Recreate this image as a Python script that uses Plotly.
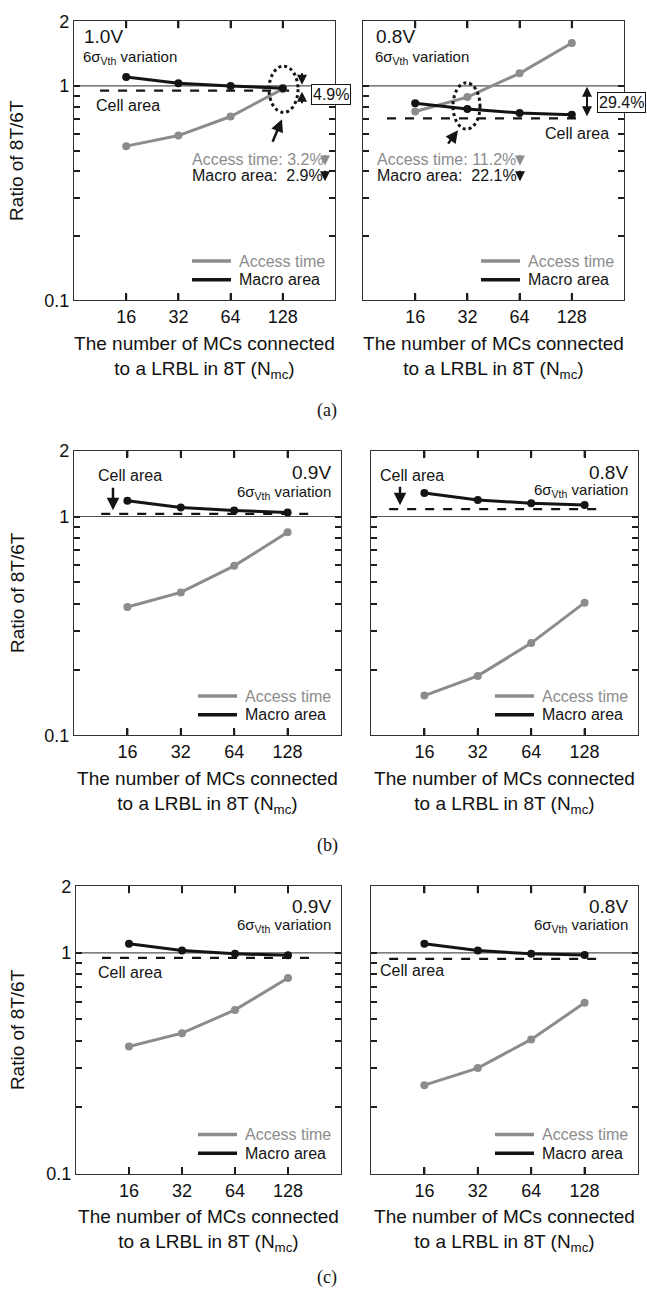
import plotly.graph_objects as go

W, H = 647, 1303

# ---------------- data ----------------
N_MC = ["16", "32", "64", "128"]
X_IDX = [0, 1, 2, 3]

# (a) 1.0V and 0.8V
access_a1 = [0.524, 0.587, 0.72, 0.968]
macro_a1 = [1.10, 1.03, 1.00, 0.975]
cell_a1 = 0.951
access_a2 = [0.76, 0.887, 1.145, 1.585]
macro_a2 = [0.83, 0.78, 0.748, 0.734]
cell_a2 = 0.706
# (b) 0.9V and 0.8V
access_b1 = [0.386, 0.45, 0.595, 0.847]
macro_b1 = [1.18, 1.10, 1.065, 1.043]
cell_b1 = 1.028
access_b2 = [0.152, 0.187, 0.264, 0.404]
macro_b2 = [1.28, 1.19, 1.15, 1.13]
cell_b2 = 1.08
# (c) 0.9V and 0.8V
access_c1 = [0.377, 0.433, 0.552, 0.77]
macro_c1 = [1.10, 1.025, 0.99, 0.975]
cell_c1 = 0.95
access_c2 = [0.252, 0.301, 0.406, 0.594]
macro_c2 = [1.10, 1.025, 0.99, 0.978]
cell_c2 = 0.94

VOLTAGES = ["1.0V", "0.8V", "0.9V", "0.8V", "0.9V", "0.8V"]
Y_TICKS = [0.1, 1, 2]
Y_TICK_TEXT = ["0.1", "1", "2"]
Y_MINOR = [0.2, 0.3, 0.4, 0.5, 0.6, 0.7, 0.8, 0.9]
REF_RATIO = 1.0

ACCESS = [access_a1, access_a2, access_b1, access_b2, access_c1, access_c2]
MACRO = [macro_a1, macro_a2, macro_b1, macro_b2, macro_c1, macro_c2]
CELL = [cell_a1, cell_a2, cell_b1, cell_b2, cell_c1, cell_c2]

# ---------------- layout geometry (pixels) ----------------
PANELS = [
    (74, 335, 11.5, 295),
    (363, 624, 11.5, 295),
    (74, 341, 447.5, 736.7),
    (371, 638, 447.5, 736.7),
    (76, 341, 890, 1182),
    (371, 638, 890, 1182),
]
CELL_SPAN = [(-0.5, 3.29), (-0.54, 3.1), (-0.49, 3.51), (-0.66, 3.33), (-0.51, 3.49), (-0.66, 3.33)]

GRAY = "#8c8c8c"
BLACK = "#141414"
AXC = "#1e1e1e"
FONT = "Liberation Sans, Arial, sans-serif"
TICK_PX = 7


def fx(x):
    return x / W


def fy(y):
    return 1 - y / H


fig = go.Figure()
layout_axes = {}
annotations = []
shapes = []

for i in range(6):
    x0, x1, y0, y1 = PANELS[i]
    xa = "x" if i == 0 else f"x{i+1}"
    ya = "y" if i == 0 else f"y{i+1}"
    xname = "xaxis" if i == 0 else f"xaxis{i+1}"
    yname = "yaxis" if i == 0 else f"yaxis{i+1}"

    # cell area dashed
    fig.add_trace(go.Scatter(
        x=list(CELL_SPAN[i]), y=[CELL[i], CELL[i]], mode="lines",
        line=dict(color=BLACK, width=2.2, dash="dash"),
        xaxis=xa, yaxis=ya, showlegend=False, hoverinfo="skip"))
    # reference line y=1
    fig.add_trace(go.Scatter(
        x=[-1, 4], y=[REF_RATIO, REF_RATIO], mode="lines",
        line=dict(color="#555555", width=1.2),
        xaxis=xa, yaxis=ya, showlegend=False, hoverinfo="skip"))
    fig.add_trace(go.Scatter(
        x=X_IDX, y=ACCESS[i], mode="lines+markers", name="Access time",
        line=dict(color=GRAY, width=3), marker=dict(color=GRAY, size=8),
        xaxis=xa, yaxis=ya, showlegend=False))
    fig.add_trace(go.Scatter(
        x=X_IDX, y=MACRO[i], mode="lines+markers", name="Macro area",
        line=dict(color=BLACK, width=3), marker=dict(color=BLACK, size=8),
        xaxis=xa, yaxis=ya, showlegend=False))

    layout_axes[xname] = dict(
        domain=[fx(x0), fx(x1)], anchor=ya, range=[-1, 4],
        tickmode="array", tickvals=X_IDX, ticktext=N_MC, ticks="inside", ticklen=TICK_PX,
        tickcolor=AXC, tickwidth=2,
        showline=True, linecolor="#333", linewidth=1.3, mirror="ticks",
        showgrid=False, zeroline=False, layer="above traces",
        tickfont=dict(family=FONT, size=18, color="#111"),
        title=dict(text="The number of MCs connected<br>to a LRBL in 8T (N<sub>mc</sub>)",
                   font=dict(family=FONT, size=19, color="#111"), standoff=10),
    )
    layout_axes[yname] = dict(
        domain=[fy(y1), fy(y0)], anchor=xa, type="log",
        range=[-1, 0.30103], tickmode="array", tickvals=Y_TICKS, ticktext=Y_TICK_TEXT,
        ticks="inside", ticklen=6, tickcolor=AXC, tickwidth=1.6,
        minor=dict(tickmode="array", tickvals=Y_MINOR, ticks="inside", ticklen=6,
                   tickcolor=AXC, tickwidth=1.6, showgrid=False),
        showline=True, linecolor="#333", linewidth=1.3, mirror="ticks",
        showgrid=False, zeroline=False, layer="above traces",
        showticklabels=(i % 2 == 0),
        tickfont=dict(family=FONT, size=18, color="#111"),
    )

    # category tick marks at bottom and top of each panel (positioned by the x scale)
    frac = TICK_PX / (y1 - y0)
    for xv in X_IDX:
        shapes.append(dict(type="line", xref=xa, yref=f"{ya} domain",
                           x0=xv, x1=xv, y0=0, y1=frac,
                           line=dict(color=AXC, width=2)))
        shapes.append(dict(type="line", xref=xa, yref=f"{ya} domain",
                           x0=xv, x1=xv, y0=1 - frac, y1=1,
                           line=dict(color=AXC, width=2)))

    # legend (drawn as decoration)
    shapes.append(dict(type="line", xref="paper", yref="paper",
                       x0=fx(x1 - 143), x1=fx(x1 - 104), y0=fy(y1 - 40), y1=fy(y1 - 40),
                       line=dict(color=GRAY, width=3.5)))
    shapes.append(dict(type="line", xref="paper", yref="paper",
                       x0=fx(x1 - 143), x1=fx(x1 - 104), y0=fy(y1 - 21), y1=fy(y1 - 21),
                       line=dict(color=BLACK, width=3.5)))
    annotations.append(dict(x=fx(x1 - 98), y=fy(y1 - 40), xref="paper", yref="paper",
                            text="Access time", showarrow=False, xanchor="left", yanchor="middle",
                            font=dict(family=FONT, size=16, color=GRAY)))
    annotations.append(dict(x=fx(x1 - 98), y=fy(y1 - 21), xref="paper", yref="paper",
                            text="Macro area", showarrow=False, xanchor="left", yanchor="middle",
                            font=dict(family=FONT, size=16, color=BLACK)))

    # y title
    if i % 2 == 0:
        annotations.append(dict(x=fx(17), y=fy((y0 + y1) / 2), xref="paper", yref="paper",
                                text="Ratio of 8T/6T", textangle=-90, showarrow=False,
                                xanchor="center", yanchor="middle",
                                font=dict(family=FONT, size=19, color="#111")))


def text(px, py, t, size=16, color=BLACK, xanchor="left", family=FONT):
    annotations.append(dict(x=fx(px), y=fy(py), xref="paper", yref="paper", text=t,
                            showarrow=False, xanchor=xanchor, yanchor="middle",
                            font=dict(family=family, size=size, color=color)))


def arrow(hx, hy, tx, ty, color=BLACK, width=2, size=1.0, both=False):
    d = dict(x=fx(hx), y=fy(hy), xref="paper", yref="paper", ax=tx - hx, ay=ty - hy,
             axref="pixel", ayref="pixel", text="", showarrow=True, arrowhead=2,
             arrowsize=size, arrowwidth=width, arrowcolor=color)
    if both:
        d["arrowside"] = "end+start"
        d["startarrowhead"] = 2
        d["startarrowsize"] = size
    annotations.append(d)


def ellipse(xa, xb, ya, yb):
    shapes.append(dict(type="circle", xref="paper", yref="paper",
                       x0=fx(xa), x1=fx(xb), y0=fy(yb), y1=fy(ya),
                       line=dict(color=BLACK, width=3, dash="dot")))


SIGMA = "6σ<sub>Vth</sub> variation"

# ---- (a) left 1.0V ----
text(82, 27, VOLTAGES[0], size=19)
text(81, 48, SIGMA, size=15)
text(94, 97, "Cell area", size=16)
ellipse(269, 298, 57, 104)
arrow(282, 111, 272, 135, width=2.5)
text(190, 152, "Access time: 3.2%", size=16, color=GRAY)
text(190, 168, "Macro area:  2.9%", size=16, color=BLACK)
arrow(325, 158, 325, 146, color=GRAY, width=2)
arrow(325, 174, 325, 162, color=BLACK, width=2)
arrow(302, 76, 302, 63, width=2)
arrow(302, 83, 302, 96, width=2)
annotations.append(dict(x=fx(331), y=fy(86), xref="paper", yref="paper", text="4.9%",
                        showarrow=False, xanchor="center", yanchor="middle",
                        bordercolor=BLACK, borderwidth=1, borderpad=1, bgcolor="white",
                        font=dict(family=FONT, size=16, color=BLACK)))

# ---- (a) right 0.8V ----
text(374, 27, VOLTAGES[1], size=19)
text(373, 48, SIGMA, size=15)
ellipse(453, 480, 74, 121)
arrow(458, 122, 447, 137, width=2.5)
text(375, 152, "Access time: 11.2%", size=16, color=GRAY)
text(375, 168, "Macro area:  22.1%", size=16, color=BLACK)
arrow(520, 158, 520, 146, color=GRAY, width=2)
arrow(520, 174, 520, 162, color=BLACK, width=2)
arrow(587, 108, 587, 77, width=2, both=True)
annotations.append(dict(x=fx(621), y=fy(94), xref="paper", yref="paper", text="29.4%",
                        showarrow=False, xanchor="center", yanchor="middle",
                        bordercolor=BLACK, borderwidth=1, borderpad=1, bgcolor="white",
                        font=dict(family=FONT, size=16, color=BLACK)))
text(543, 125, "Cell area", size=16)

# ---- (b) ----
text(96, 473, "Cell area", size=16)
arrow(113, 508, 113, 484, width=2.5)
text(333, 470, VOLTAGES[2], size=19, xanchor="right")
text(333, 490, SIGMA, size=15, xanchor="right")
text(378, 473, "Cell area", size=16)
arrow(400, 503, 400, 483, width=2.5)
text(630, 470, VOLTAGES[3], size=19, xanchor="right")
text(630, 488, SIGMA, size=15, xanchor="right")

# ---- (c) ----
text(333, 910, VOLTAGES[4], size=19, xanchor="right")
text(333, 930, SIGMA, size=15, xanchor="right")
text(96, 977, "Cell area", size=16)
text(630, 910, VOLTAGES[5], size=19, xanchor="right")
text(630, 930, SIGMA, size=15, xanchor="right")
text(378, 975, "Cell area", size=16)

# captions
SERIF = "Liberation Serif, Times New Roman, serif"
text(327, 407, "(a)", size=18, xanchor="center", family=SERIF)
text(327, 849, "(b)", size=18, xanchor="center", family=SERIF)
text(327, 1287, "(c)", size=18, xanchor="center", family=SERIF)

fig.update_layout(
    width=W, height=H,
    margin=dict(l=0, r=0, t=0, b=0),
    paper_bgcolor="white", plot_bgcolor="white",
    showlegend=False,
    annotations=annotations, shapes=shapes,
    font=dict(family=FONT, color="#111"),
    **layout_axes,
)

fig.write_html(
    "out.html",
    config={"displayModeBar": False},
    post_script="document.documentElement.style.margin='0';document.body.style.margin='0';"
                "document.body.style.padding='0';document.body.style.overflow='hidden';",
)
